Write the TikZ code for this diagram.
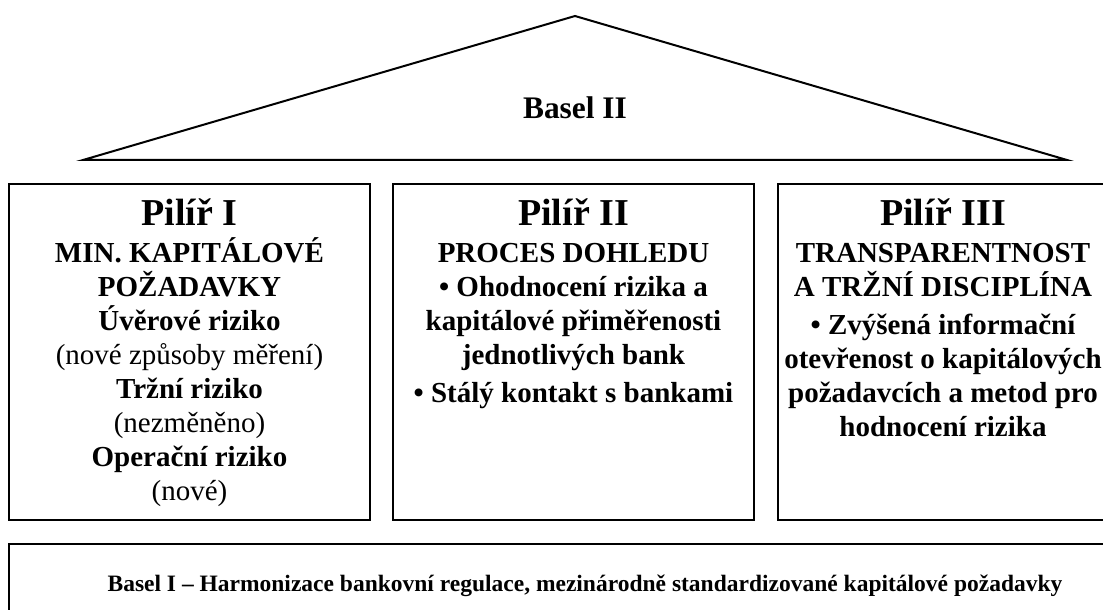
\documentclass[tikz,border=0pt]{standalone}
\usepackage{fontspec}
\setmainfont{Liberation Serif}
\usetikzlibrary{positioning}

\newcommand{\pillarhead}[1]{{\fontsize{19}{21}\selectfont #1}}
\newcommand{\pillarnote}[1]{{\mdseries #1}}

\begin{document}
\begin{tikzpicture}[
		x=0.5pt, y=-0.5pt,
		roofline/.style={line width=1pt, line join=miter},
		pillarbox/.style={draw, line width=1.2pt, minimum width=180.5pt, minimum height=168pt, inner sep=0pt},
		pillartext/.style={align=center, inner sep=0pt, font=\bfseries\fontsize{14.5}{17}\selectfont},
		basebox/.style={draw, line width=1.2pt, minimum width=576pt, minimum height=56pt, inner sep=0pt},
		basetext/.style={inner sep=0pt, font=\bfseries\fontsize{11.75}{14}\selectfont}
		]
		
		\useasboundingbox (0,0) rectangle (1103,610);
		\clip (0,0) rectangle (1103,610);
		
		% === ROOF ===
		\coordinate (eaveL) at (83,160);
		\coordinate (ridge) at (575,16);
		\coordinate (eaveR) at (1067,160);
		\draw[roofline] (eaveL) -- (ridge) -- (eaveR) -- cycle;
		\node[anchor=base, font=\bfseries\fontsize{15.7}{18}\selectfont] (basel2) at (575,119) {Basel II};
		
		% === PILLARS ===
		\node[pillarbox] (box1) at (189.5,352) {};
		\node[pillarbox] (box2) at (573.5,352) {};
		\node[pillarbox, minimum width=165pt] (box3) at (943,352) {};
		
		% Pillar I
		\node[pillartext, below=8pt of box1.north] (pillar1) {
			\pillarhead{Pilíř I}\\[1.5pt]
			MIN. KAPITÁLOVÉ\\
			POŽADAVKY\\
			Úvěrové riziko\\
			\pillarnote{(nové způsoby měření)}\\
			Tržní riziko\\
			\pillarnote{(nezměněno)}\\
			Operační riziko\\
			\pillarnote{(nové)}
		};
		
		% Pillar II
		\node[pillartext, below=8pt of box2.north] (pillar2) {
			\pillarhead{Pilíř II}\\[1.5pt]
			PROCES DOHLEDU\\
			• Ohodnocení rizika a\\
			kapitálové přiměřenosti\\
			jednotlivých bank\\[2pt]
			• Stálý kontakt s bankami
		};
		
		% Pillar III
		\node[pillartext, below=8pt of box3.north] (pillar3) {
			\pillarhead{Pilíř III}\\[1.5pt]
			TRANSPARENTNOST\\
			A TRŽNÍ DISCIPLÍNA\\[2pt]
			• Zvýšená informační\\
			otevřenost o kapitálových\\
			požadavcích a metod pro\\
			hodnocení rizika
		};
		
		% === FOUNDATION ===
		\node[basebox] (base) at (585,600) {};
		\node[basetext, anchor=base] (basetxt) at (585,591)
		{Basel I – Harmonizace bankovní regulace, mezinárodně standardizované kapitálové požadavky};
		
	\end{tikzpicture}
\end{document}
